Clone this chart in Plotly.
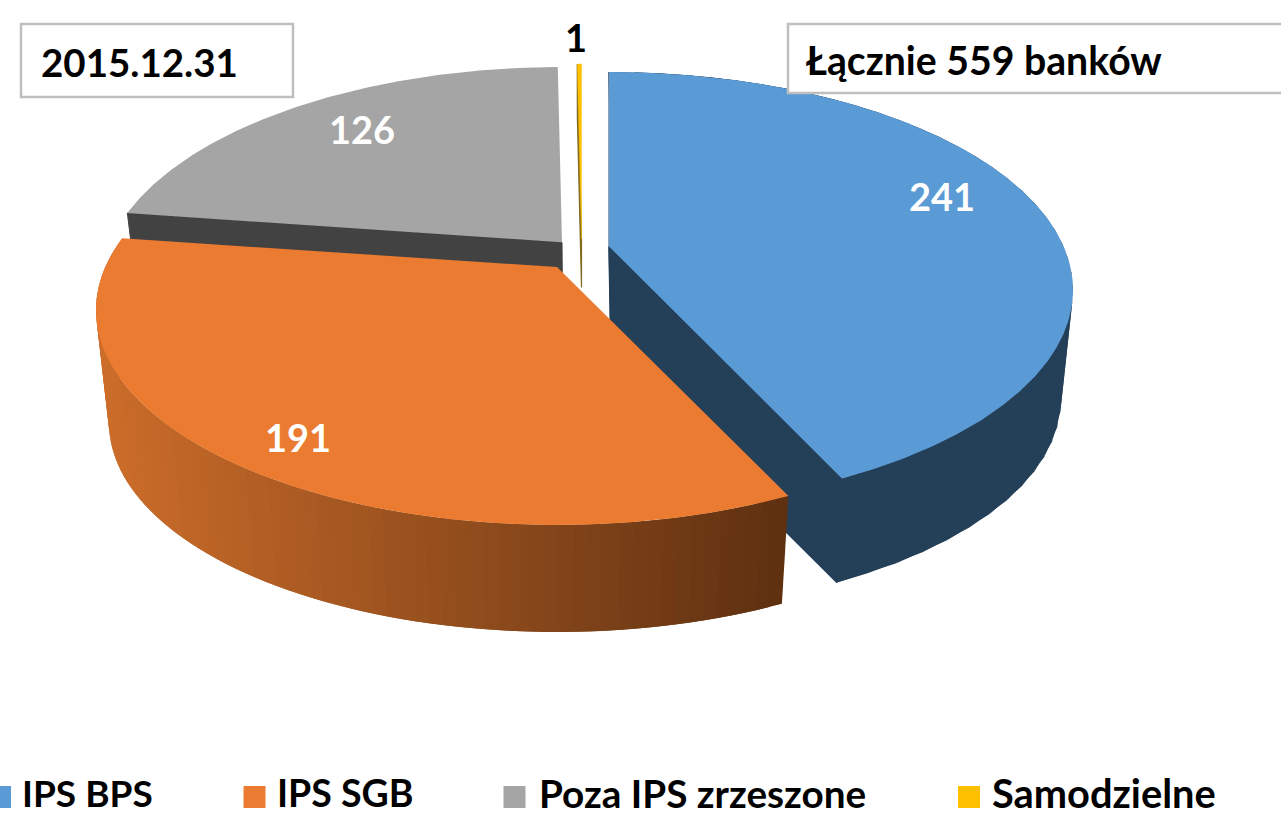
import numpy as np
import plotly.graph_objects as go

categories = ["IPS BPS", "IPS SGB", "Poza IPS zrzeszone", "Samodzielne"]
values = [241, 191, 126, 1]
colors = ["#5A9AD5", "#EA7B30", "#A5A5A5", "#FFC000"]
date_label = "2015.12.31"
total_label = "Łącznie 559 banków"

FONT = "Lato, Carlito, Calibri, sans-serif"
E = 0.2          # perspective: how far the pie centre sits above the ellipse centre


def project(theta_deg, cx, cy, rx, ry, e=E):
    t = np.radians(theta_deg)
    X, Y = np.sin(t), np.cos(t)
    d = 1 + e * Y
    u = X * np.sqrt(1 - e * e) / d
    v = (Y + e) / d
    return cx + rx * u, cy - ry * v


def wedge(t0, t1, g):
    n = max(3, int(abs(t1 - t0) * 2))
    xs, ys = project(np.linspace(t0, t1, n), *g)
    ax, ay = g[0], g[1] - g[3] * E
    return np.r_[ax, xs, ax], np.r_[ay, ys, ay]


def poly(fig, x, y, color, lw=0.0):
    fig.add_trace(go.Scatter(x=x, y=y, mode="lines", fill="toself", fillcolor=color,
                             line=dict(color=color, width=lw), hoverinfo="skip",
                             showlegend=False, cliponaxis=False))


def radial_face(fig, t, top, bot, color, lw=1.0):
    tx, ty = project(np.array([t]), *top)
    bx, by = project(np.array([t]), *bot)
    poly(fig, [top[0], tx[0], bx[0], bot[0], top[0]],
         [top[1] - top[3] * E, ty[0], by[0], bot[1] - bot[3] * E, top[1] - top[3] * E], color, lw)


def rim(fig, t0, t1, geo, color_at, n, overlap=2):
    """Rim as quads joining the top arc to the bottom arc, each painted over the next."""
    th = np.linspace(t0, t1, n + 1)
    x0, y0 = project(th, *geo[0])
    x1, y1 = project(th, *geo[1])
    xmin, xmax = x1.min(), x1.max()
    for i in range(n):
        j = min(i + overlap, n)
        f = (0.5 * (x1[i] + x1[i + 1]) - xmin) / (xmax - xmin)
        c = color_at(f)
        poly(fig, [x0[i], x0[j], x1[j], x1[i], x0[i]],
             [y0[i], y0[j], y1[j], y1[i], y0[i]], c, 0.0)


def lerp_hex(c0, c1, f):
    a = [int(c0[i:i + 2], 16) for i in (1, 3, 5)]
    b = [int(c1[i:i + 2], 16) for i in (1, 3, 5)]
    return "#%02x%02x%02x" % tuple(round(p + (q - p) * f) for p, q in zip(a, b))


total = sum(values)
edges = np.r_[0, np.cumsum(values)] / total * 360

# geometry: ellipse centre x, y, radius x, y for the top face and the bottom rim
geo_blue = ((609, 290, 464, 218), (611, 400, 450, 211))
geo_orange = ((557, 310, 461, 215), (557, 423, 448, 209))
geo_gray = ((562, 286, 461, 219), (563, 399, 447, 212))
geo_yellow = ((581.5, 283, 462, 219), (581.5, 330, 450, 212))

fig = go.Figure()

# grey slice
radial_face(fig, edges[2], *geo_gray, "#424242")
poly(fig, *wedge(edges[2], edges[3], geo_gray[0]), colors[2])

# single-bank sliver
radial_face(fig, edges[3], *geo_yellow, "#7F6A20", 1.2)
poly(fig, *wedge(edges[3], edges[4], geo_yellow[0]), colors[3], 0.4)

# blue slice
BLUE_SIDE = "#243F58"
rim(fig, edges[0], edges[1], geo_blue, lambda f: BLUE_SIDE, 40)
radial_face(fig, edges[0], *geo_blue, BLUE_SIDE)
radial_face(fig, edges[1], *geo_blue, BLUE_SIDE, 1.5)
poly(fig, *wedge(edges[0], edges[1], geo_blue[0]), colors[0])

# orange slice: rim in shaded strips, then the top
rim(fig, edges[1], edges[2], geo_orange, lambda f: lerp_hex("#CC6D2A", "#5E3011", f), 80)
poly(fig, *wedge(edges[1], edges[2], geo_orange[0]), colors[1])

# legend row
fig.add_trace(go.Scatter(x=[0, 254.5, 514.5, 969], y=[797] * 4, mode="markers",
                         marker=dict(symbol="square", size=22, color=colors, line=dict(width=0)),
                         hoverinfo="skip", showlegend=False, cliponaxis=False))
fig.add_trace(go.Scatter(x=[22, 277, 539, 992], y=[798] * 4, mode="text",
                         text=[f"<b>{c}</b>" for c in categories], textposition="middle right",
                         textfont=dict(family=FONT, color="#000000", size=[37, 37.5, 38.7, 39.8]),
                         hoverinfo="skip", showlegend=False, cliponaxis=False))

# data labels
for v, lx, ly, col in zip(values, [942, 298, 362, 576], [196, 437, 129, 37],
                          ["#FFFFFF", "#FFFFFF", "#FFFFFF", "#000000"]):
    fig.add_annotation(x=lx, y=ly, text=f"<b>{v}</b>", showarrow=False, xanchor="center",
                       yanchor="middle", font=dict(family=FONT, size=38, color=col))

# text boxes
for bx0, by0, bx1, by1, txt, tx, fs in [(21, 24, 293, 97, date_label, 39, 38.5),
                                        (788, 24, 1290, 93, total_label, 804, 39.2)]:
    fig.add_shape(type="rect", x0=bx0, y0=by0, x1=bx1, y1=by1, layer="above",
                  fillcolor="#FFFFFF", line=dict(color="#BFBFBF", width=2.5))
    fig.add_annotation(x=tx, y=(by0 + by1) / 2 + 1, text=f"<b>{txt}</b>", showarrow=False,
                       xanchor="left", yanchor="middle",
                       font=dict(family=FONT, size=fs, color="#000000"))

fig.update_layout(width=1281, height=815, margin=dict(l=0, r=0, t=0, b=0),
                  paper_bgcolor="#FFFFFF", plot_bgcolor="#FFFFFF", showlegend=False,
                  xaxis=dict(range=[0, 1281], visible=False, fixedrange=True),
                  yaxis=dict(range=[815, 0], visible=False, fixedrange=True))
fig.write_html("out.html", config={"displayModeBar": False},
               post_script="document.body.style.margin='0';document.body.style.overflow='hidden';")
